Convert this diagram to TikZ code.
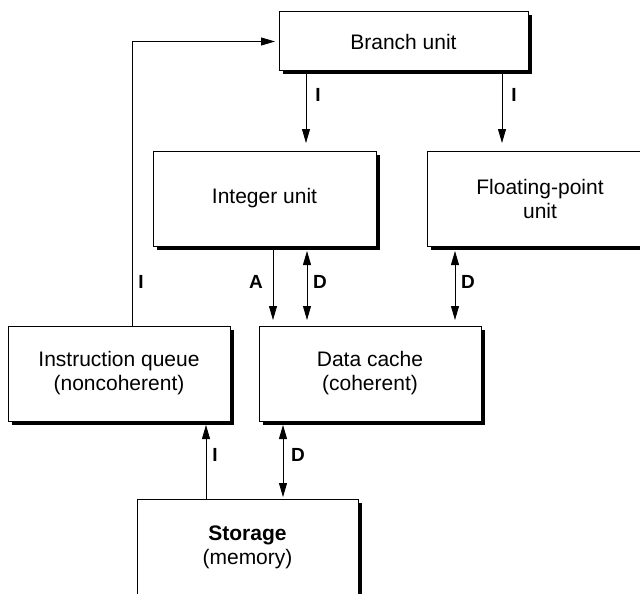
\documentclass[tikz,border=0pt]{standalone}
\usepackage{fontspec}
\setmainfont{Liberation Sans}
\usetikzlibrary{arrows.meta}
\begin{document}
\begin{tikzpicture}[x=1pt,y=-1pt,
  unitbox/.style={draw=black, fill=white, line width=1pt, inner sep=0pt, outer sep=0pt,
    align=center, font=\fontsize{21}{24}\selectfont},
  shadowbox/.style={fill=black, draw=none, inner sep=0pt, outer sep=0pt},
  lab/.style={inner sep=0pt, font=\fontsize{19}{22}\selectfont\bfseries},
  conn/.style={line width=0.8pt, -{Triangle[length=14pt,width=8pt]}},
  bconn/.style={line width=0.8pt, {Triangle[length=14pt,width=8pt]}-{Triangle[length=14pt,width=8pt]}}]
\useasboundingbox (0,0) rectangle (640,594);
% shadows
\node[shadowbox, minimum width=249pt, minimum height=59pt] (brs) at (407,45) {};
\node[shadowbox, minimum width=223pt, minimum height=95pt] (ints) at (268,202) {};
\node[shadowbox, minimum width=226pt, minimum height=95pt] (fps) at (543.5,202) {};
\node[shadowbox, minimum width=222pt, minimum height=95pt] (iqs) at (122.5,377) {};
\node[shadowbox, minimum width=222pt, minimum height=95pt] (dcs) at (373.5,377) {};
\node[shadowbox, minimum width=221pt, minimum height=97pt] (sts) at (251,551) {};
% boxes
\node[unitbox, minimum width=249pt, minimum height=59pt] (br) at (403.5,41.5) {Branch unit};
\node[unitbox, minimum width=223pt, minimum height=95pt] (int) at (264.5,198.5) {Integer unit};
\node[unitbox, minimum width=226pt, minimum height=95pt] (fp) at (540,198.5) {Floating-point\\unit};
\node[unitbox, minimum width=222pt, minimum height=95pt] (iq) at (119,373.5) {Instruction queue\\(noncoherent)};
\node[unitbox, minimum width=222pt, minimum height=95pt] (dc) at (370,373.5) {Data cache\\(coherent)};
\node[unitbox, minimum width=221pt, minimum height=97pt] (st) at (247.5,547.5) {\textbf{Storage}\\(memory)};
% connectors
\draw[conn, shorten >=4pt] (132,0 |- iq.north) |- (br.west);
\draw[conn, shorten >=8pt] (306,0 |- br.south) -- (306,0 |- int.north);
\draw[conn, shorten >=8pt] (502,0 |- br.south) -- (502,0 |- fp.north);
\draw[conn, shorten >=6pt] (273,0 |- int.south) -- (273,0 |- dc.north);
\draw[bconn, shorten <=5pt, shorten >=6pt] (307,0 |- int.south) -- (307,0 |- dc.north);
\draw[bconn, shorten <=5pt, shorten >=6pt] (455,0 |- fp.south) -- (455,0 |- dc.north);
\draw[conn, shorten >=4pt] (206,0 |- st.north) -- (206,0 |- iq.south);
\draw[bconn, shorten <=2pt, shorten >=4pt] (283,0 |- st.north) -- (283,0 |- dc.south);
% labels
\node[lab] (l1) at (141,282) {I};
\node[lab] (l2) at (318,95) {I};
\node[lab] (l3) at (514,95) {I};
\node[lab] (l4) at (256,282) {A};
\node[lab] (l5) at (320,282) {D};
\node[lab] (l6) at (468,282) {D};
\node[lab] (l7) at (215,455) {I};
\node[lab] (l8) at (298,455) {D};
\end{tikzpicture}
\end{document}
